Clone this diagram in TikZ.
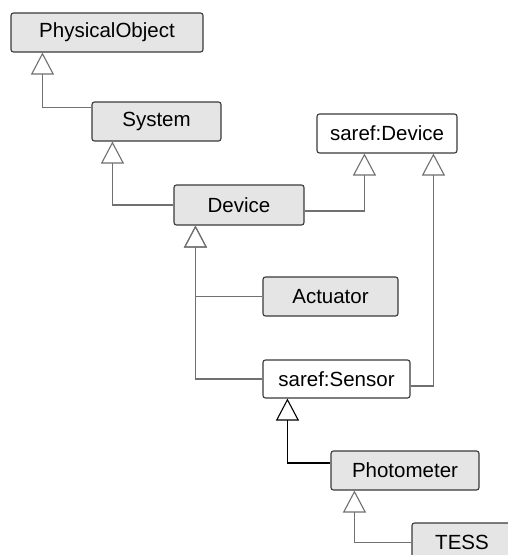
\documentclass[tikz,border=0pt]{standalone}
\usepackage{fontspec}
\setmainfont{Liberation Sans}
\usepackage{tikz}
\usetikzlibrary{arrows.meta,calc}
\definecolor{boxgray}{HTML}{E5E5E5}
\definecolor{edge}{HTML}{3A3A3A}
\definecolor{linegray}{HTML}{707070}

\begin{document}
\begin{tikzpicture}[x=1pt,y=-1pt,
    font=\fontsize{20.5}{24}\selectfont,
    cls/.style={draw=edge,line width=1.1pt,rounded corners=2.5pt,fill=boxgray,
      inner sep=0pt,minimum height=39pt},
    ext/.style={cls,fill=white},
    gen/.style={draw=linegray,line width=1.1pt,
      -{Triangle[open,length=22pt,width=23pt]}}]
  \clip (0,0) rectangle (508,555);
  \fill[white] (0,0) rectangle (508,555);
  % classes
  \node[cls,minimum width=192pt] (po) at (107,32.5) {PhysicalObject};
  \node[cls,minimum width=129pt] (sys) at (156.5,121.5) {System};
  \node[cls,minimum width=130pt,minimum height=40pt] (dev) at (239,205) {Device};
  \node[ext,minimum width=140pt] (sdev) at (387,133.5) {saref:Device};
  \node[cls,minimum width=135pt] (act) at (330.5,296.5) {Actuator};
  \node[ext,minimum width=147pt,minimum height=38pt] (ssen) at (336.5,379) {saref:Sensor};
  \node[cls,minimum width=148pt] (photo) at (405,470.5) {Photometer};
  \node[cls,minimum width=100pt] (tess) at (462,542.5) {TESS};
  % generalisations
  \draw[gen] ($(sys.north west)+(0,6)$) -| ($(po.south west)+(32,0)$);
  \draw[gen] (dev.west) -| ($(sys.south west)+(21,0)$);
  \draw[gen] ($(dev.east)+(0,6)$) -| ($(sdev.south west)+(48,0)$);
  \draw[gen] ($(ssen.east)+(0,7)$) -| ($(sdev.south west)+(117,0)$);
  \draw[gen] (act.west) -| ($(dev.south west)+(22,0)$);
  \draw[gen] (ssen.west) -| ($(dev.south west)+(22,0)$);
  \draw[gen,draw=black] ($(photo.west)+(0,-7.5)$) -| ($(ssen.south west)+(25,0)$);
  \draw[gen] (tess.west) -| ($(photo.south west)+(24,0)$);
\end{tikzpicture}
\end{document}
